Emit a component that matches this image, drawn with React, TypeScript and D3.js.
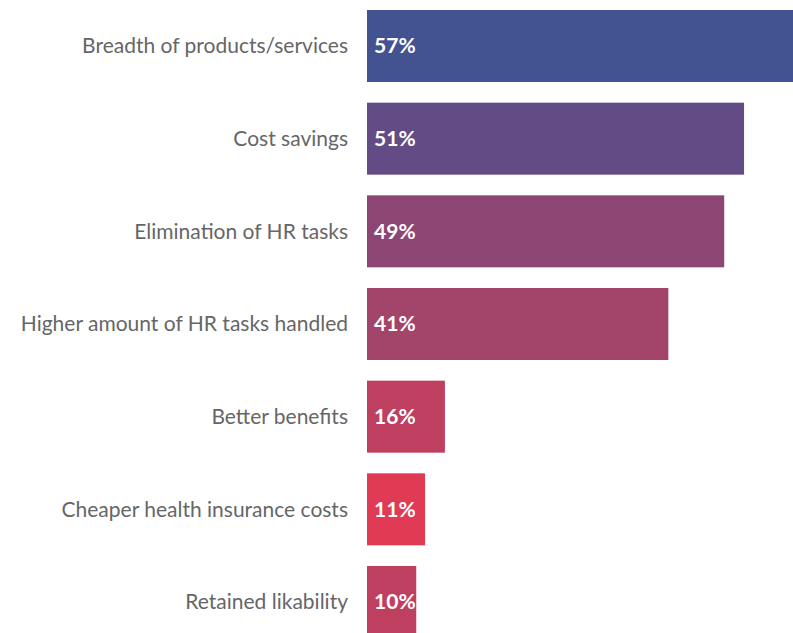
import React from "react";
import * as d3 from "d3";

const categories = [
  "Breadth of products/services",
  "Cost savings",
  "Elimination of HR tasks",
  "Higher amount of HR tasks handled",
  "Better benefits",
  "Cheaper health insurance costs",
  "Retained likability",
];
// Displayed percentages
const shares = [57, 51, 49, 41, 16, 11, 10];
// Bar lengths as drawn in the picture (same % axis), the small bars are drawn shorter than their labels
const barLengths = [58, 51.3, 48.6, 41, 10.6, 7.9, 6.7];
const colors = ["#435291", "#634c85", "#8d4673", "#a3446a", "#be3f5f", "#e03a54", "#be3f5f"];

const W = 793;
const H = 633;

export default function App() {
  const x = d3.scaleLinear().domain([0, 100]).range([367, 367 + 735]);
  const y = d3
    .scaleBand<string>()
    .domain(categories)
    .range([10, 638])
    .paddingInner(0.223)
    .paddingOuter(0);
  const bw = y.bandwidth();
  return (
    <div style={{ position: "absolute", left: 0, top: 0 }}>
      <svg width={W} height={H} style={{ display: "block", fontFamily: "Lato, 'Open Sans', sans-serif" }}>
        <rect x={0} y={0} width={W} height={H} fill="#ffffff" />
        {categories.map((c, i) => {
          const y0 = y(c)!;
          const cy = y0 + bw / 2;
          return (
            <g key={c}>
              <rect x={x(0)} y={y0} width={x(barLengths[i]) - x(0)} height={bw} fill={colors[i]} />
              <text
                x={x(0) - 19}
                y={cy}
                dy="0.35em"
                textAnchor="end"
                fontSize={21}
                fill="#666666"
              >
                {c}
              </text>
              <text x={x(0) + 7} y={cy} dy="0.35em" fontSize={21} fontWeight="bold" fill="#ffffff">
                {shares[i]}%
              </text>
            </g>
          );
        })}
      </svg>
    </div>
  );
}
